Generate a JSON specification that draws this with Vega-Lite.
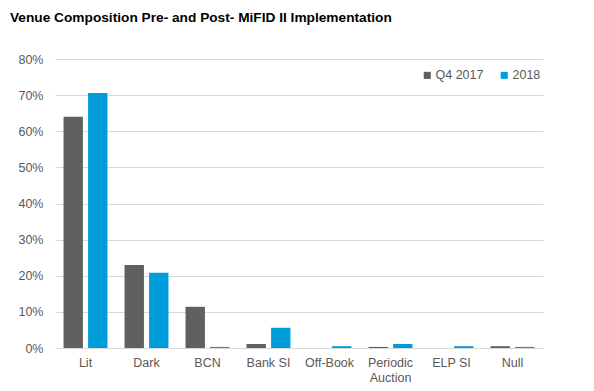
{
  "$schema": "https://vega.github.io/schema/vega-lite/v6.json",
  "width": 488,
  "height": 289,
  "autosize": {"type": "none"},
  "padding": {"left": 55, "top": 59, "right": 51, "bottom": 43},
  "background": "white",
  "title": {
    "text": "Venue Composition Pre- and Post- MiFID II Implementation",
    "anchor": "start",
    "frame": "group",
    "dx": -45,
    "offset": 28,
    "font": "Liberation Sans",
    "fontSize": 13.7,
    "fontWeight": "bold",
    "color": "#000000"
  },
  "config": {
    "view": {"stroke": null},
    "font": "Liberation Sans"
  },
  "data": {
    "values": [
      {"venue": "Lit", "period": "Q4 2017", "share": 0.640},
      {"venue": "Lit", "period": "2018", "share": 0.706},
      {"venue": "Dark", "period": "Q4 2017", "share": 0.230},
      {"venue": "Dark", "period": "2018", "share": 0.208},
      {"venue": "BCN", "period": "Q4 2017", "share": 0.114},
      {"venue": "BCN", "period": "2018", "share": 0.003},
      {"venue": "Bank SI", "period": "Q4 2017", "share": 0.011},
      {"venue": "Bank SI", "period": "2018", "share": 0.056},
      {"venue": "Off-Book", "period": "Q4 2017", "share": 0.0},
      {"venue": "Off-Book", "period": "2018", "share": 0.005},
      {"venue": "Periodic Auction", "period": "Q4 2017", "share": 0.003},
      {"venue": "Periodic Auction", "period": "2018", "share": 0.011},
      {"venue": "ELP SI", "period": "Q4 2017", "share": 0.0},
      {"venue": "ELP SI", "period": "2018", "share": 0.005},
      {"venue": "Null", "period": "Q4 2017", "share": 0.005},
      {"venue": "Null", "period": "2018", "share": 0.003}
    ]
  },
  "mark": {"type": "bar"},
  "encoding": {
    "x": {
      "field": "venue",
      "type": "nominal",
      "sort": ["Lit", "Dark", "BCN", "Bank SI", "Off-Book", "Periodic Auction", "ELP SI", "Null"],
      "scale": {"paddingInner": 0.28, "paddingOuter": 0.14},
      "axis": {
        "title": null,
        "labelAngle": 0,
        "ticks": false,
        "domainColor": "#d9d9d9",
        "domainWidth": 1,
        "labelColor": "#595959",
        "labelFontSize": 12.5,
        "labelPadding": 8,
        "labelExpr": "datum.value == 'Periodic Auction' ? ['Periodic', 'Auction'] : datum.value",
        "labelLineHeight": 15
      }
    },
    "xOffset": {
      "field": "period",
      "type": "nominal",
      "sort": ["Q4 2017", "2018"],
      "scale": {"paddingInner": 0.21}
    },
    "y": {
      "field": "share",
      "type": "quantitative",
      "scale": {"domain": [0, 0.8]},
      "axis": {
        "title": null,
        "format": ".0%",
        "values": [0, 0.1, 0.2, 0.3, 0.4, 0.5, 0.6, 0.7, 0.8],
        "labelOverlap": false,
        "domain": false,
        "ticks": false,
        "gridColor": "#d9d9d9",
        "labelColor": "#595959",
        "labelFontSize": 12.5,
        "labelPadding": 12
      }
    },
    "color": {
      "field": "period",
      "type": "nominal",
      "sort": ["Q4 2017", "2018"],
      "scale": {"domain": ["Q4 2017", "2018"], "range": ["#5f6062", "#009ddb"]},
      "legend": {
        "title": null,
        "orient": "none",
        "direction": "horizontal",
        "legendX": 366,
        "legendY": 10,
        "symbolType": "square",
        "symbolSize": 50,
        "symbolStrokeWidth": 0,
        "labelColor": "#595959",
        "labelFontSize": 12.5,
        "labelOffset": 2,
        "columnPadding": 14
      }
    }
  }
}
